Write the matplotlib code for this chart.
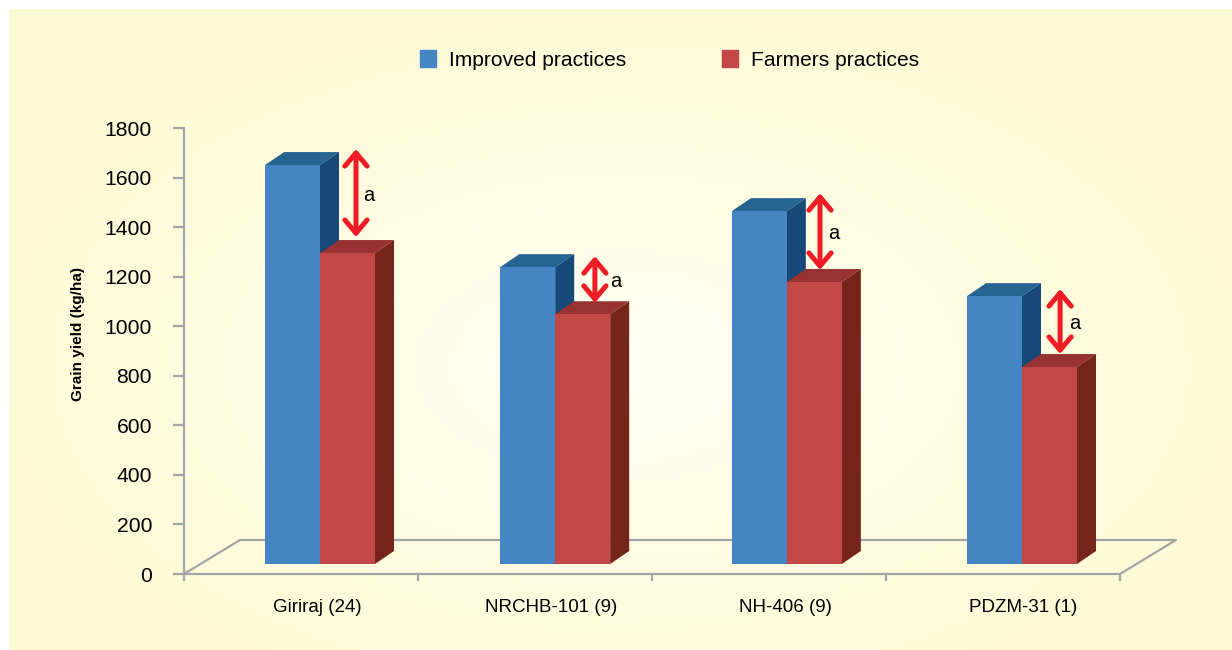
import numpy as np
from matplotlib import pyplot as plt
from matplotlib.patches import Patch

plt.rcParams['font.family'] = ['Liberation Sans', 'DejaVu Sans']

varieties = ['Giriraj (24)', 'NRCHB-101 (9)', 'NH-406 (9)', 'PDZM-31 (1)']
improved = [1610, 1198, 1424, 1081]
farmers = [1255, 1008, 1138, 795]
y_ticks = [0, 200, 400, 600, 800, 1000, 1200, 1400, 1600, 1800]

# double arrows: top and bottom end on the y scale, x in category units
arrow_x = [0.735, 1.756, 2.718, 3.744]
arrow_top = [1715, 1283, 1537, 1150]
arrow_bottom = [1360, 1094, 1227, 888]
arrow_label = ['a', 'a', 'a', 'a']
label_x = [0.791, 1.846, 2.778, 3.808]

W, H = 1232, 650
fig = plt.figure(figsize=(W / 100, H / 100), dpi=100, facecolor='white')

# pale yellow panel, lighter towards the middle
bg = fig.add_axes([9 / W, 0, 1 - 9 / W, 1 - 9 / H], zorder=0)
bg.axis('off')
yy, xx = np.mgrid[9:H, 9:W]
r = np.sqrt(((xx - 620) / 640) ** 2 + ((yy - 365) / 360) ** 2)
r = np.clip(r, 0, 1)[..., None]
centre = np.array([255, 255, 246]) / 255
edge = np.array([255, 250, 214]) / 255
bg.imshow(centre + (edge - centre) * r ** 0.8, aspect='auto', interpolation='bilinear')

# plot area runs from x=184 to 1120 and from y=574 up to 128
ax = fig.add_axes([184 / W, 1 - 574 / H, 936 / W, 446 / H], zorder=1)
ax.patch.set_alpha(0)
ax.set_xlim(0, 4)
ax.set_ylim(0, 1800)

px_x = 4 / 936
px_y = 1800 / 446
grey = '#A3A5A8'

# floor of the 3D box
ax.plot([0, 56 * px_x, 4 + 56 * px_x, 4], [0, 34 * px_y, 34 * px_y, 0],
        color=grey, lw=1.6, clip_on=False, zorder=1)

bar_w = 55 * px_x
base = 10 * px_y
dx = 19 * px_x
dy = 13 * px_y


def draw_bar(x, v, front, top, side, z):
    ax.bar(x, v, bar_w, bottom=base, align='edge', color=front, clip_on=False, zorder=z + 0.2)
    t = base + v
    ax.fill([x, x + bar_w, x + bar_w + dx, x + dx], [t, t, t + dy, t + dy],
            color=top, lw=0, clip_on=False, zorder=z)
    ax.fill([x + bar_w, x + bar_w + dx, x + bar_w + dx, x + bar_w],
            [base, base + dy, t + dy, t], color=side, lw=0, clip_on=False, zorder=z)


for i in range(4):
    left = i + 81 * px_x + [0, 0.005, -0.005, 0][i]
    draw_bar(left, improved[i], '#4685C4', '#266592', '#164878', 2)
    draw_bar(left + bar_w, farmers[i], '#C24747', '#983232', '#742418', 3)

    ax.annotate('', xy=(arrow_x[i], arrow_top[i]), xytext=(arrow_x[i], arrow_bottom[i]),
                arrowprops=dict(arrowstyle='<->,head_length=0.95,head_width=0.8',
                                color='#EE1C25', lw=3.6, shrinkA=0, shrinkB=0),
                annotation_clip=False, zorder=5)
    ax.text(label_x[i], (arrow_top[i] + arrow_bottom[i]) / 2 - 8, arrow_label[i],
            fontsize=14.5, ha='center', va='center', zorder=5)

for s in ['top', 'right']:
    ax.spines[s].set_visible(False)
for s in ['left', 'bottom']:
    ax.spines[s].set_color(grey)
    ax.spines[s].set_linewidth(1.6)

ax.set_yticks(y_ticks)
ax.tick_params(axis='y', length=8, width=1.6, color=grey, pad=15, labelsize=15.2)

# category borders as major ticks, names as minor ticks under the bars
ax.set_xticks([0, 1, 2, 3, 4])
ax.set_xticklabels([])
ax.tick_params(axis='x', which='major', length=5, width=1.6, color=grey)
ax.set_xticks([0.57, 1.57, 2.57, 3.588], labels=varieties, minor=True)
ax.tick_params(axis='x', which='minor', length=0, pad=18, labelsize=13.5)

fig.text(78 / W, 1 - 334 / H, 'Grain yield (kg/ha)', rotation=90, fontsize=11,
         fontweight='bold', ha='center', va='center')

handles = [Patch(color='#4685C4', label='Improved practices'),
           Patch(color='#C24747', label='Farmers practices')]
fig.legend(handles=handles, ncols=2, frameon=False, fontsize=15.1, loc='center',
           bbox_to_anchor=(669.5 / W, 1 - 60 / H), handlelength=0.75, handleheight=0.85,
           handletextpad=0.6, columnspacing=4.6)

fig.savefig('out.png', dpi=100)
